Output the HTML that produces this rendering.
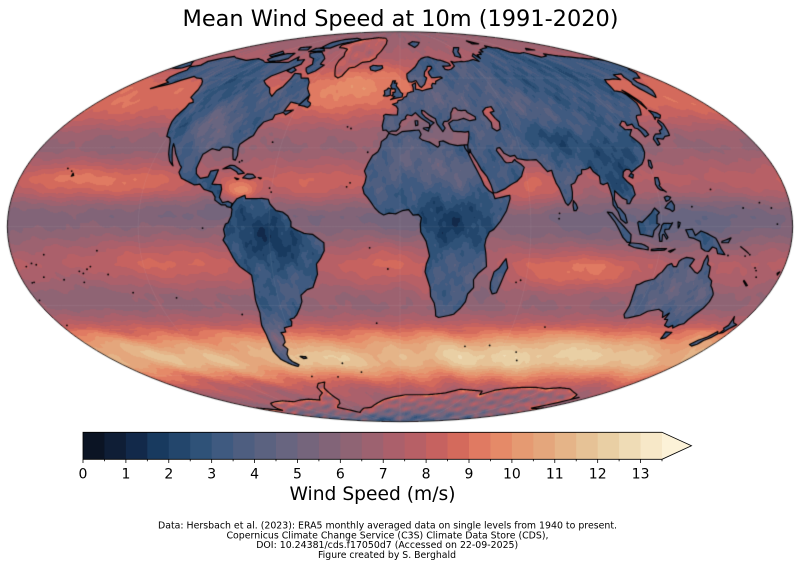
<!DOCTYPE html>
<html><head><meta charset="utf-8">
<style>
html,body{margin:0;padding:0;background:#fff;}
#wrap{position:relative;width:800px;height:568px;overflow:hidden;background:#fff;}
canvas{position:absolute;left:0;top:0;}
svg{position:absolute;left:0;top:0;}
text{font-family:"DejaVu Sans","Liberation Sans",sans-serif;fill:#000;}
</style></head><body>
<div id="wrap">
<canvas id="c" width="800" height="568"></canvas>
<svg id="s" width="800" height="568" viewBox="0 0 800 568" xmlns="http://www.w3.org/2000/svg">
<text x="400.5" y="26" font-size="22.4" text-anchor="middle" textLength="436" lengthAdjust="spacingAndGlyphs">Mean Wind Speed at 10m (1991-2020)</text>
<g id="cb"></g>
<path d="M83,432.3 H662 L691.5,445.8 L662,459.3 H83 Z" fill="none" stroke="#000" stroke-width="0.8"/>
<g font-size="14" text-anchor="middle">
<text x="83" y="478.3">0</text>
<text x="125.9" y="478.3">1</text>
<text x="168.8" y="478.3">2</text>
<text x="211.7" y="478.3">3</text>
<text x="254.6" y="478.3">4</text>
<text x="297.4" y="478.3">5</text>
<text x="340.3" y="478.3">6</text>
<text x="383.2" y="478.3">7</text>
<text x="426.1" y="478.3">8</text>
<text x="469" y="478.3">9</text>
<text x="511.9" y="478.3">10</text>
<text x="554.8" y="478.3">11</text>
<text x="597.7" y="478.3">12</text>
<text x="640.6" y="478.3">13</text>
</g>
<text x="372.5" y="500" font-size="18.6" text-anchor="middle" textLength="166" lengthAdjust="spacingAndGlyphs">Wind Speed (m/s)</text>
<g font-size="9.5" text-anchor="middle">
<text x="387.5" y="528.5" textLength="459" lengthAdjust="spacingAndGlyphs">Data: Hersbach et al. (2023): ERA5 monthly averaged data on single levels from 1940 to present.</text>
<text x="387.5" y="538.4" textLength="322" lengthAdjust="spacingAndGlyphs">Copernicus Climate Change Service (C3S) Climate Data Store (CDS),</text>
<text x="387.2" y="548.2" textLength="262" lengthAdjust="spacingAndGlyphs">DOI: 10.24381/cds.f17050d7 (Accessed on 22-09-2025)</text>
<text x="387" y="558" textLength="138" lengthAdjust="spacingAndGlyphs">Figure created by S. Berghald</text>
</g>
</svg>
</div>
<script>
(function(){
var CM=['#0b1424','#0f1e36','#12294a','#183a5f','#23466c','#2f5278','#3f5a80','#4e5e80','#5b6280','#686580','#75657c','#826478','#8f6474','#9d6270','#ab606b','#b76066','#c66260','#d46a5c','#e07a62','#e58a68','#e59a72','#e4a67c','#e5b488','#e6c296','#e9cfa4','#efdcb6','#f7e8c8','#fcf2d8'];
var NS='http://www.w3.org/2000/svg';
var cb=document.getElementById('cb');
var step=579/27;
for(var i=0;i<27;i++){
  var r=document.createElementNS(NS,'rect');
  r.setAttribute('x',(83+i*step).toFixed(2));r.setAttribute('y','432.3');
  r.setAttribute('width',(step+0.4).toFixed(2));r.setAttribute('height','27');
  r.setAttribute('fill',CM[i]);cb.appendChild(r);
}
var ext=document.createElementNS(NS,'polygon');
ext.setAttribute('points','662,432.3 691.5,445.8 662,459.3');ext.setAttribute('fill',CM[27]);cb.appendChild(ext);
for(var i=0;i<=27;i++){
  var x=83+i*step;
  var l=document.createElementNS(NS,'line');
  l.setAttribute('x1',x.toFixed(2));l.setAttribute('x2',x.toFixed(2));
  l.setAttribute('y1','459.3');l.setAttribute('y2',(i%2==0?463:461.3));
  l.setAttribute('stroke','#000');l.setAttribute('stroke-width','0.8');cb.appendChild(l);
}
var hex=CM.map(function(h){return [parseInt(h.substr(1,2),16),parseInt(h.substr(3,2),16),parseInt(h.substr(5,2),16)];});

var CX=400,CY=226.7,RX=392.7,RY=195,D=Math.PI/180;
function theta(lat){
  if(lat>=89.999)return Math.PI/2; if(lat<=-89.999)return -Math.PI/2;
  var k=Math.PI*Math.sin(lat*D),lo=-Math.PI/2,hi=Math.PI/2;
  for(var i=0;i<40;i++){var m=(lo+hi)/2; if(2*m+Math.sin(2*m)<k)lo=m; else hi=m;}
  return (lo+hi)/2;
}
function proj(lon,lat){var t=theta(lat);return [CX+RX*(lon/180)*Math.cos(t),CY-RY*Math.sin(t)];}
function dens(p,closed){
  var o=[];var n=p.length;var lim=closed?n:n-1;
  for(var i=0;i<lim;i++){var a=p[i],b=p[(i+1)%n];
    var k=Math.max(1,Math.ceil(Math.max(Math.abs(b[0]-a[0]),Math.abs(b[1]-a[1]))/1.5));
    for(var j=0;j<k;j++){o.push([a[0]+(b[0]-a[0])*j/k,a[1]+(b[1]-a[1])*j/k]);}
  }
  if(!closed)o.push(p[n-1]);
  return o;
}
var NA=[[-166,68.5],[-162,70.2],[-156,71.3],[-150,70.4],[-141,69.6],[-135,69],[-128,70],[-120,69],[-115,68],[-108,68],[-100,68],[-95,68],[-94,71],[-90,69],[-85,69.5],[-82,67],[-87,64],[-93,61],[-94,58.7],[-90,57],[-85,55.3],[-82,53],[-79,51.5],[-79,54],[-77,56],[-77,60],[-78,62.3],[-73,62],[-70,60],[-65,60],[-62,58],[-60,55],[-56,52],[-59,48],[-65,49],[-66,45],[-61,45.5],[-64,43.5],[-66,44.5],[-70,43.5],[-70,41.7],[-74,40.5],[-75.5,38],[-76,35],[-78,33.8],[-81,31.5],[-81,30],[-80,27],[-80.3,25.2],[-81.5,25.5],[-82.5,27.5],[-83.5,29.7],[-86,30.3],[-89,30.3],[-90,29],[-94,29.7],[-97.3,27.5],[-97.5,25],[-97.8,22],[-97,20],[-94.5,18.2],[-91,18.8],[-90.5,21],[-87,21.5],[-87.5,18.3],[-88.3,16],[-84,15.8],[-83.3,14],[-83.7,11],[-82,9],[-79.5,9.5],[-77.5,8.7],[-77.9,7.2],[-79.8,7.5],[-80.5,8.2],[-82.5,8.2],[-85.7,10],[-85.8,11.2],[-87.5,13],[-91.5,14],[-94,16],[-96.5,15.7],[-100,17],[-103.5,18.3],[-105.5,20.5],[-105.2,22.5],[-106.5,23.5],[-109,26],[-111,27.9],[-112.8,30],[-114.7,31.7],[-114,30],[-112.5,27.5],[-110.5,24.2],[-109.5,23],[-110.3,23.5],[-112.1,24.8],[-114.2,27.5],[-115.8,30.3],[-117.1,32.5],[-118.5,34],[-120.6,34.6],[-122.4,37.5],[-124,40.5],[-124.5,43],[-124,46.5],[-124.7,48.4],[-123,48.8],[-125,50],[-128,51],[-130,54.5],[-133,57],[-136,58.5],[-140,59.8],[-144,60],[-148,60.8],[-152,59],[-154,57.5],[-157,56.5],[-162,55],[-158,58],[-162,58.8],[-164.5,60.5],[-165,62.5],[-164,64],[-168,65.6],[-163,66.5]];
var SA=[[-77.9,7.2],[-77,8.7],[-75.5,10.5],[-72,11.8],[-71.5,10.5],[-68,10.5],[-64,10.6],[-61,10.3],[-60,8.5],[-57,6],[-54,5.5],[-51.5,4],[-50,1.8],[-50,0],[-48,-1],[-44,-2.5],[-40,-2.9],[-37,-4.8],[-35,-6],[-35,-9],[-37,-12],[-39,-14],[-39,-17.9],[-40.5,-20.5],[-42,-23],[-45,-23.8],[-48.5,-26],[-48.7,-28.5],[-50.5,-31],[-53,-33.7],[-55,-35],[-57.3,-35.5],[-56.8,-36.5],[-57.7,-38.2],[-62,-39],[-62.2,-40.7],[-65,-41],[-64.5,-42.5],[-65.3,-45],[-67.5,-46.3],[-66,-48],[-68.5,-50.3],[-69,-52.2],[-68.3,-53.5],[-65.5,-55],[-67,-55.8],[-70,-55],[-72,-54],[-74.5,-52.5],[-75.5,-49],[-74.5,-46],[-73.6,-42],[-73.5,-38],[-71.6,-33],[-71.5,-28],[-70.5,-23],[-70.2,-18.3],[-72,-17],[-75,-15],[-76.3,-13.5],[-77.5,-11.5],[-79.5,-7.5],[-81.3,-5],[-80.3,-3.5],[-80.9,-1],[-80,1],[-78.8,1.5],[-77.5,4],[-77.3,6.5]];
var GL=[[-73,78],[-66,80.5],[-60,82],[-40,83.5],[-25,83],[-20,81.5],[-18,79],[-19,76],[-20,74],[-22,72],[-22,70.5],[-26,68.5],[-32,68],[-36,65.5],[-40,65],[-42,61],[-44,60],[-47,61],[-50,64],[-52,66],[-53.5,69],[-53,71.5],[-56,73.5],[-58,75.5],[-64,76.2],[-70,76.5]];
var AF=[[-5.9,35.8],[-2,35.1],[1,36.5],[5,36.8],[10,37.2],[11,35.5],[10,34],[11.5,33.1],[15,32.3],[19,30.3],[20,31],[20,32.5],[22,32.8],[25,31.6],[29,30.9],[32.3,31.2],[34.2,31.2],[33.8,27.8],[35.5,24],[37,21],[38.5,18],[39.5,15.5],[41.5,13.5],[43.3,12.5],[44,10.5],[51,11.8],[51,10.5],[49,6],[46,2],[43,-1],[41,-2],[39.5,-4.5],[39,-7],[39.7,-10],[40.5,-15],[37,-17.5],[35,-20],[35.5,-23],[33,-25.5],[32.5,-28.5],[30.5,-31],[27.5,-33.5],[25,-34],[20,-34.8],[18.4,-34.2],[18,-32],[17,-29],[15,-26.5],[14.5,-23],[11.8,-17],[12.3,-14],[13.7,-11],[12,-5.5],[9.5,-2],[9.3,1],[9.8,3.3],[8.5,4.5],[6,4.3],[4,6.4],[1,6],[-2,4.8],[-5,5.1],[-7.5,4.4],[-9.5,5.3],[-11.5,6.9],[-13.3,9],[-15,10.9],[-16.7,12.4],[-17.5,14.7],[-16.5,16.5],[-16,19],[-17,21],[-15.5,24],[-13.5,27],[-11,28.5],[-9.8,30.5],[-9.5,32.5],[-7,34]];
var MG=[[49.3,-12],[50.5,-15.5],[49.5,-17.5],[48,-22],[47,-25],[45,-25.5],[43.6,-23.5],[43.3,-21],[44.3,-17],[46.5,-15.5],[48,-13.5]];
var EU=[[-9,37],[-9.5,39],[-8.8,42],[-9.2,43.2],[-8,43.7],[-4,43.4],[-1.5,43.4],[-1.2,46],[-2.2,47.2],[-4.5,48],[-1.5,48.7],[-1.2,49.6],[1.5,50.1],[2.5,51.1],[4,51.5],[4.8,53],[7,53.5],[8.5,53.7],[8.6,55.5],[8.1,56.8],[10.5,57.7],[10.3,56.2],[10,54.8],[12.5,54.5],[14,54],[18,54.8],[21,55.2],[21,56.5],[22,57.5],[24,57.2],[24.5,58.4],[28,59.5],[30,60],[29,60.6],[25,60.2],[22.5,60.2],[21.5,61.5],[21.3,63],[25,65],[25,65.8],[22,65.8],[21,64.5],[18.5,63],[17.5,61],[18.9,60],[16.5,57],[14,55.5],[12.8,56.2],[11,58.8],[8,58],[6,58.2],[5,60],[5,62],[8,63.5],[12,65.5],[14,67],[16,68.6],[19,70],[23,70.8],[26,71],[30,70],[33,69.3],[36,69],[41,67.5],[41,66.2],[38,66],[34.5,66],[35,64.3],[37,64],[40,64.5],[44,66],[44,68.5],[46,68],[53,68.5],[55,68.3],[60,68.8],[65,69.5],[68.5,68.5],[68.5,71.5],[72.5,72.8],[72.7,70],[75,72.2],[80,72.5],[81,73.7],[86,73.9],[87,75.1],[94,76],[100,76.4],[104,77.7],[107,76.5],[112,76.2],[113,73.7],[120,73],[126,73.5],[129,72],[131,70.8],[139,71.5],[142,72.7],[150,71.5],[160,70.7],[170,69.9],[176,69.7],[180,68.9],[180,65],[178,64.5],[176,62.5],[172,61],[170,60],[166,60],[163.5,59.5],[162,58],[163,56],[161.5,54],[160,53],[158.5,52],[156.7,51],[156,53],[155.5,55],[156,57],[158,58],[160,60.5],[163,62],[160,61.8],[156,61.6],[154,59.2],[150,59.6],[146,59.2],[143,59.3],[140.5,57.8],[137,54],[140.5,53.5],[141,52.5],[140.2,48.5],[138,46],[135,43.5],[132,43.2],[130.7,42.3],[129.5,40.8],[128,39],[129.4,37],[129.3,35.3],[126.6,34.4],[126.4,36.8],[126,37.7],[124.7,38],[125,39.6],[121.7,39],[122.3,40.5],[121,40.9],[118,39.2],[119,37.3],[122.5,37.4],[120.6,36.1],[119.2,34.9],[121.5,32],[121.9,31],[121.3,28.3],[119.6,26],[117,23.6],[114,22.3],[110.5,20.5],[110,21.5],[108.5,21.7],[106.7,20.7],[105.7,18.8],[107,17],[109,15.3],[109.3,12],[107.5,10.5],[106,8.6],[104.8,8.6],[105,10],[103,10.8],[100.1,13.5],[99.2,10.2],[100.3,7.3],[101.3,6.8],[103.4,4.5],[104.2,1.5],[103.5,1.3],[101.3,2.8],[100.3,5.5],[98.3,8.2],[98.5,11],[97.7,16.5],[95.4,15.8],[94.2,16.3],[94.6,19],[92.4,20.7],[91.5,22.6],[90.3,22],[88.8,21.6],[87,21.5],[86.5,20],[84.5,19.2],[82.2,16.5],[80.3,15.8],[80.3,13],[79.8,10.3],[78.5,8.8],[77.5,8],[76.5,8.9],[75.5,11.5],[74.5,14.5],[73.4,16.5],[72.8,19],[72.6,21.3],[70.5,20.8],[69,22.5],[68.2,23.7],[66.5,25.4],[62,25.2],[57.3,25.8],[56.5,27.1],[54,26.7],[51.5,27.9],[50,30.1],[48.6,29.9],[48,29],[50,26.2],[50.8,24.8],[51.6,24.2],[52.5,24.2],[54.5,24.4],[56,25.5],[56.4,24.9],[58.7,23.5],[59.8,22.4],[58.5,20.5],[57.7,19],[55,17],[52,15.8],[49,14.2],[45,12.8],[43.5,12.7],[42.7,15.7],[41.2,19],[39,21.5],[37.5,24.3],[35.2,28],[34.9,29.5],[34.5,28],[33.5,28.5],[32.5,30],[32.3,31.2],[34.2,31.2],[35,33],[35.9,35.5],[36,36.6],[34,36.3],[32,36.5],[30.5,36.5],[28,36.7],[27,38],[26.3,40],[29,41.2],[31.5,41.2],[35,42],[38,41],[41.5,41.5],[41.7,42.7],[38,44.5],[37.5,45.4],[35,45.3],[33,45.5],[32,46.5],[30.5,46.3],[29.7,45.3],[28.7,44.3],[28,42],[26,40.8],[24,40.7],[23,39.5],[24,38],[22.5,36.5],[21.5,37.8],[20,39.7],[19.5,41.8],[16,43.5],[13.7,45.1],[12.3,45.4],[12.4,44],[14,42.5],[16,41.3],[18.5,40.2],[16.5,39],[15.7,38],[16,39.5],[15.6,40.1],[12,41.9],[10.5,43],[8.7,44.4],[6.5,43.1],[4,43.5],[3,42.5],[3.2,41.9],[0.8,41],[-0.3,39.5],[0,38.6],[-0.7,37.6],[-2.1,36.7],[-4.5,36.7],[-6,36.2],[-7.4,37.2]];
var small=[
[[130,31],[131.5,31.5],[132,33.8],[135,33.5],[137,34.6],[139.8,35],[140.9,36.9],[141.5,38.5],[142,39.8],[141.4,41.4],[140,40.5],[139.8,38.5],[138.5,37.5],[136.7,37],[136,35.7],[133,35.5],[131,34.4],[130,33.5]],
[[140,41.5],[141.5,42.5],[143.3,42],[145.5,43.3],[145,44.2],[142,45.4],[141.5,43.5]],
[[142,46],[143.5,49],[143,52.5],[142.5,54.3],[142,51]],
[[-5.7,50],[-3,50.6],[1.3,51.2],[1.7,52.7],[0.3,53.4],[-0.2,54.2],[-1.5,55.5],[-2.5,56.3],[-2,57.6],[-4,57.6],[-3,58.6],[-5,58.6],[-5.6,57],[-6.2,56.3],[-5.5,55.3],[-4.8,54.8],[-3.2,54.9],[-3,53.8],[-3.2,53.3],[-4.6,53.3],[-4.2,52.4],[-5.2,51.8],[-3.2,51.4]],
[[-6,52],[-6.2,53.8],[-5.8,54.8],[-7.5,55.3],[-8.5,54.5],[-10,54],[-9.5,52.5],[-10.3,51.7],[-8,51.6]],
[[-22.5,64],[-24,65.5],[-22,66.4],[-18,66.1],[-14.5,66.2],[-13.6,65],[-15,64.3],[-18.7,63.4]],
[[79.8,8],[80.2,9.8],[81.3,8.5],[81.8,7],[81,6],[80,6]],
[[120.1,23],[121,25.2],[122,25],[121.5,22.5],[120.7,21.9]],
[[108.6,19],[110,20.1],[111,19.6],[110.2,18.3]],
[[95.3,5.5],[97.5,5.2],[100.3,2.2],[103.8,-1],[106,-3],[106,-5.8],[104.5,-5.9],[102.3,-4],[100.4,-1],[98.6,1.7]],
[[105.2,-6.8],[106,-6],[108.3,-6.2],[111,-6.4],[112.6,-6.9],[114.4,-7.7],[114.6,-8.7],[111,-8.2],[108,-7.8]],
[[109,1.5],[109.6,2],[111,1.6],[113,3.2],[115.5,5.2],[117.2,7],[119.2,5.3],[118,4.3],[117.8,1.2],[119,0.9],[117.5,-0.5],[116.5,-1.5],[116,-3.8],[114.5,-3.5],[111.7,-3],[110.2,-2.9],[109.5,-0.8]],
[[119.4,-5.5],[120.4,-5.5],[120.4,-3],[121,-2.8],[122.5,-4.7],[123,-4],[121.3,-1.9],[121.5,-1],[123.3,-0.9],[125,1.5],[124.3,1.2],[120.9,1.3],[120,0.5],[119.8,-0.5],[118.8,-2.8]],
[[120.6,18.5],[122.2,18.5],[122.1,16],[121.5,15.5],[122.5,14.2],[124,13],[123.2,13.5],[121.5,13.8],[120.6,14.5],[120,16]],
[[122,7],[123.5,8.5],[125.5,9.7],[126.5,8],[126.2,6.3],[125.3,5.7],[124,6.5]],
[[122.5,11],[124,11.5],[125.5,11],[124.5,10],[123,9.5]],
[[127.5,1.8],[128.5,1.5],[128,0],[127.5,-0.5]],
[[131,-1.2],[134,-0.9],[135.5,-3.3],[138,-1.6],[141,-2.6],[145,-4.3],[146,-5.5],[148,-8.1],[150.5,-10.5],[147,-10.1],[146,-8.2],[144,-7.6],[142.6,-9.3],[141,-9.1],[139,-8.1],[138,-5.5],[135,-4.4],[132.7,-4],[132,-2.8]],
[[148,-5.5],[152,-4.2],[151,-6],[148,-6]],
[[124,-9.2],[127,-8.4],[125,-9.6]],
[[116,-8.5],[119,-8.2],[123,-8.2],[122,-8.8],[116,-9]],
[[157,-7.5],[160,-9.2],[161.3,-10],[159,-8.6]],
[[164,-20.2],[167,-22.2],[166.5,-22.4],[164,-20.6]],
[[113.5,-22],[114,-26],[115,-30],[115,-33.6],[116.5,-35],[118,-35],[123.5,-33.9],[126,-32.3],[131,-31.5],[134,-32.6],[135.9,-34.8],[137.7,-33],[137.8,-35.6],[139.5,-35.6],[140.6,-38],[143.5,-38.8],[145,-38],[146.3,-39.1],[148,-37.8],[150,-37.3],[150.2,-35.7],[151.3,-33.5],[153,-31],[153.6,-28.5],[153.2,-25.9],[152.8,-25.3],[151,-23.5],[149.5,-22.3],[148.7,-20.4],[146.3,-18.9],[145.3,-15],[143.6,-14.1],[143.5,-12.5],[142.5,-10.7],[141.6,-13],[141.5,-16.2],[140.5,-17.6],[139,-17.1],[136,-15],[135.5,-14.8],[136.9,-12.3],[136,-11.9],[133,-11.5],[131,-12.2],[130,-13],[129.5,-15],[128,-15],[126.8,-13.8],[125,-14.5],[123.5,-17],[122.2,-18],[121,-19.7],[117,-20.6],[114.6,-21.8]],
[[144.7,-40.7],[148.3,-40.9],[148,-43.2],[146,-43.6]],
[[172.7,-34.4],[174.6,-36.2],[175.9,-37],[178.5,-37.7],[177,-39.3],[176.2,-41],[174.7,-41.3],[175,-39.8],[173.8,-39.2],[174.6,-38]],
[[172.7,-40.5],[174.3,-41.4],[173.3,-43],[171.3,-44.3],[170.7,-45.9],[169,-46.7],[166.5,-46],[168.2,-44.1],[170.6,-43],[172,-41.5]],
[[-80,73.7],[-72,71.5],[-68,70],[-66,67],[-62,66.5],[-64.5,63.5],[-68,62],[-71.5,63.5],[-74,65],[-72.5,67],[-78,70],[-84,71],[-90,73],[-85,73.8]],
[[-118,71],[-112,72.8],[-105,73],[-101,70],[-105,68.8],[-113,68.5],[-118,69.5]],
[[-90,76],[-80,76.2],[-77,79],[-68,80.6],[-62,82],[-75,83],[-90,82],[-95,80]],
[[-95,74],[-80,74.5],[-88,76.5],[-95,76]],
[[-125,71.8],[-120,71],[-116,73],[-123,74.3]],
[[-110,75],[-100,75],[-105,77],[-115,76.5]],
[[-86,63.5],[-81,62.5],[-80,64],[-85,65.5]],
[[11,79],[17,76.6],[22,78],[27,80],[18,80.5]],
[[52,71.5],[56,70.6],[58,72],[60,74],[68,76.5],[62,76.5],[55,74]],
[[95,79],[104,79],[100,81]],
[[137,75],[146,75],[142,76]],
[[-85,21.8],[-82,23.2],[-80,23.1],[-77,21.8],[-74.2,20.2],[-77,19.8],[-78,20.7],[-81.5,22.2],[-84,21.9]],
[[-74.5,18.4],[-72.8,19.9],[-70,19.7],[-68.4,18.6],[-71,18]],
[[-78.3,18.4],[-76.2,18],[-77,17.7]],
[[-67.2,18.5],[-65.6,18.3],[-66,18]],
[[-59.4,47.6],[-56,51.6],[-55.5,49.5],[-53,48.5],[-52.7,47.5],[-53.6,46.6],[-55.9,47.2]],
[[12.4,38],[15.6,38.3],[15,36.7],[12.4,37.7]],
[[8.4,39],[9.6,39.2],[9.7,41],[8.2,41]],
[[-61.3,-51.2],[-58,-51.3],[-57.8,-52],[-60,-52.2]],
[[-180,68.9],[-175,67.5],[-171,66.5],[-172,65],[-175,64.8],[-180,65]],
[[-156,19],[-155,19.3],[-155.8,20.2]],
[[178,-17.5],[179,-17],[178.5,-18.2]]
];
var ANTc=[[-180,-78],[-170,-78.5],[-160,-79.5],[-150,-77],[-140,-75],[-130,-74],[-120,-73.5],[-110,-74],[-100,-73],[-90,-72.5],[-80,-73],[-75,-71],[-68,-69],[-67,-66],[-63,-64],[-57,-63.3],[-59,-64.5],[-62,-66.5],[-62,-70],[-61,-73],[-65,-75],[-70,-76],[-76,-77.5],[-60,-81],[-45,-78],[-35,-77.5],[-25,-75],[-15,-72.5],[-5,-71],[5,-70],[15,-70],[25,-70],[33,-69.5],[40,-69],[50,-67],[60,-67.5],[70,-68],[72,-70],[80,-67.5],[88,-66.5],[100,-66],[110,-66],[120,-66.8],[130,-66.2],[140,-66.8],[150,-68.5],[160,-70],[168,-72.5],[170,-71.5],[166,-76],[164,-78],[170,-78.5],[180,-78]];
var ANTf=ANTc.concat([[180,-84],[180,-90],[0,-90],[-180,-90],[-180,-84]]);
var CASP=[[47,45],[49.5,46.5],[53,47],[53.5,45],[51,44.5],[52.5,42],[54,40.5],[53,37.5],[51,36.8],[49,38],[49.5,40.3],[48,42.5],[47,43.5]];
var dots=[[-149.5,-17.6],[-172,-13.8],[-157,21],[-159.5,22],[-140,-9],[-160,-20],[-175,-21],[-130,-25],[-170,-14.3],[-110,-27],[-25,15],[-23.5,16.5],[-16,28.3],[-28,38.5],[-26,37.8],[-37,-54.3],[69.5,-49.3],[57.5,-20.2],[55.5,-21],[73,3],[73.3,5],[-90.5,-0.5],[-81,-33.6],[-60,13],[-61,14.5],[-77,25],[-78,24.5],[-64.8,32.3],[-5.7,-15.9],[-14,-7.9],[-12.3,-37.1],[37.7,-46.8],[51.8,-46.4],[77.5,-38.7],[145,14],[134.5,7.5],[158,7],[166,9],[171,7],[173,1],[-169,-19],[-177,-38],[-178.5,-28],[166.5,-15.5],[167.5,-16.5],[169,-19],[160,-11],[162,-10.5],[152,-10.8],[-175,-15],[-176,-21.2],[-63,-60.5],[-44.5,-60.7],[-26.5,-58.4],[73.5,-53],[-138,-18],[-145,-15],[-147,-16],[-151,-16.8],[-165,-10.5],[-151,-21]];

function interp(t,x){for(var i=0;i<t.length-1;i++){if(x<=t[i][0]&&x>=t[i+1][0]){var f=(x-t[i+1][0])/(t[i][0]-t[i+1][0]);return t[i+1][1]+f*(t[i][1]-t[i+1][1]);}}return t[t.length-1][1];}
var OB=[[90,6.4],[80,6.7],[70,7.3],[62,8.3],[55,8.8],[48,8.6],[42,7.8],[36,6.7],[30,6.4],[24,7.1],[18,7.8],[13,7.4],[8,6.3],[4,5.8],[0,6.0],[-4,6.4],[-8,7.0],[-14,7.7],[-20,7.3],[-26,6.5],[-31,6.4],[-36,7.4],[-41,9.0],[-46,10.4],[-51,11.1],[-55,10.9],[-59,9.7],[-63,8.6],[-67,7.6],[-72,7.0],[-80,6.5],[-90,6.5]];
var OBU=[[58,-30,6,18,1.1],[62,-5,5,10,0.4],[17,-145,5,25,1.2],[15,-120,4,12,0.6],[16,-40,5,15,0.8],[13.5,-75,3,6,2.3],[8,-105,5,25,-0.4],[8,-85,4,6,-0.8],[30,-140,4,20,-0.3],[2,140,8,25,-1.0],[0,80,6,20,-0.6],[13,60,5,10,1.2],[15,88,5,6,-0.4],[-13,-110,6,25,1.0],[-14,-8,6,12,1.0],[-17,85,5,22,1.6],[-50,80,6,45,1.3],[-52,-120,5,30,0.3],[-25,12,4,4,0.8],[-20,-150,6,20,-0.5],[20,-158,3,8,0.6],[2,-30,4,15,-0.4],[2,5,5,10,-0.9],[-5,125,8,15,-0.5],[40,15,5,12,-1.5],[44,35,3,6,-1.5],[-20,40,5,5,-1.3],[25,-90,4,6,-0.5],[60,-85,5,10,-0.5],[-52,-40,5,20,0.6],[-56,-65,3,8,0.5],[45,-170,6,25,0.4],[48,-40,5,15,0.4]];
var LBU=[[-5,-62,10,15,-1.6],[0,20,8,12,-1.7],[22,10,8,20,0.4],[25,0,5,8,0.6],[20,25,5,8,0.5],[48,65,5,12,0.6],[-27,125,6,8,0.4],[62,110,10,30,-0.6],[27,108,6,8,-1.1],[40,-100,8,8,1.2],[-25,133,10,15,0.7],[52,30,6,15,0.7],[-45,-68,5,4,1.5],[30,90,4,14,-0.6],[35,80,3,10,-0.8],[58,-110,8,15,-0.3],[10,-5,6,10,-0.4],[-20,25,8,8,0.3],[45,-115,9,6,-0.8],[8,38,5,4,-1.0],[48,5,4,8,0.5],[65,60,4,15,0.4],[0,110,4,8,-0.8],[15,-90,4,6,-0.6],[18,102,5,6,-0.7]];
function g(lat,lon,b){var dl=lon-b[1];if(dl>180)dl-=360;if(dl<-180)dl+=360;var u=(lat-b[0])/b[2],v=dl/b[3];return b[4]*Math.exp(-0.5*(u*u+v*v));}
function noise(lat,lon){return 0.5*Math.sin(lat*0.35+lon*0.21)+0.3*Math.sin(lon*0.53-lat*0.47+1.3)+0.2*Math.sin(lat*1.1+lon*0.9);}
function ln(lat,lon){return 0.35*Math.sin(0.21*lat+0.13*lon+0.5)+0.3*Math.sin(0.37*lon-0.29*lat+2.1)+0.25*Math.sin(0.61*lat+0.47*lon+4.2)+0.2*Math.sin(0.83*lon+0.11*lat+1.7)+0.15*Math.sin(1.3*lat-0.9*lon)+0.12*Math.sin(1.9*lon+0.7*lat+0.3);}
function pxn(x,y){return 0.4*Math.sin(x*0.31+y*0.53)+0.35*Math.sin(x*0.17-y*0.41+1.1)+0.25*Math.sin(x*0.73+y*0.29+2.3);}
function oceanV(lat,lon){var v=interp(OB,lat);for(var i=0;i<OBU.length;i++)v+=g(lat,lon,OBU[i]);v+=0.25*noise(lat,lon);if(lat<-40)v+=0.5*Math.sin(lon*0.12+lat*0.3)*Math.sin(lon*0.05);return v;}
function landV(lat,lon){
  var v=3.5;for(var i=0;i<LBU.length;i++)v+=g(lat,lon,LBU[i]);
  v+=0.75*ln(lat,lon);return v;
}
function projRing(p){var d=dens(p,true),o=[];var minx=1e9,maxx=-1e9,miny=1e9,maxy=-1e9;for(var i=0;i<d.length;i++){var q=proj(d[i][0],d[i][1]);o.push(q);if(q[0]<minx)minx=q[0];if(q[0]>maxx)maxx=q[0];if(q[1]<miny)miny=q[1];if(q[1]>maxy)maxy=q[1];}return {p:o,x0:minx,x1:maxx,y0:miny,y1:maxy};}
function inside(R,x,y){if(x<R.x0||x>R.x1||y<R.y0||y>R.y1)return false;var p=R.p,c=false;for(var i=0,j=p.length-1;i<p.length;j=i++){var yi=p[i][1],yj=p[j][1];if((yi>y)!=(yj>y)){var xi=p[i][0]+(y-yi)/(yj-yi)*(p[j][0]-p[i][0]);if(x<xi)c=!c;}}return c;}
var GLR=projRing(GL),ANR=projRing(ANTf);
function edgeDist(R,x,y){var m=1e9,p=R.p;for(var i=0;i<p.length;i++){var dx=p[i][0]-x,dy=p[i][1]-y,d2=dx*dx+dy*dy;if(d2<m)m=d2;}return Math.sqrt(m);}

var mk=document.createElement('canvas');mk.width=800;mk.height=568;var mx=mk.getContext('2d');
function ring(c,p,closed){var d=dens(p,closed);for(var i=0;i<d.length;i++){var q=proj(d[i][0],d[i][1]);if(i==0)c.moveTo(q[0],q[1]);else c.lineTo(q[0],q[1]);}if(closed)c.closePath();}
var polys=[NA,SA,GL,AF,MG,EU].concat(small);
mx.fillStyle='#000';mx.beginPath();
for(var i=0;i<polys.length;i++)ring(mx,polys[i],true);
ring(mx,ANTf,true);
mx.fill('nonzero');
mx.globalCompositeOperation='destination-out';mx.beginPath();ring(mx,CASP,true);mx.fill();
mx.globalCompositeOperation='source-over';
var md=mx.getImageData(0,0,800,568).data;

var cv=document.getElementById('c'),ctx=cv.getContext('2d');
var img=ctx.createImageData(800,568),dd=img.data;
for(var py=28;py<426;py++){
  for(var px=4;px<797;px++){
    var X=(px+0.5-CX)/RX,Y=(CY-(py+0.5))/RY;
    if(X*X+Y*Y>1)continue;
    var tt=Math.asin(Math.max(-1,Math.min(1,Y)));
    var ss=(2*tt+Math.sin(2*tt))/Math.PI;
    var lat=Math.asin(Math.max(-1,Math.min(1,ss)))/D;
    var ct=Math.cos(tt);var lon=ct>1e-6?180*X/ct:0;
    var idx=(py*800+px)*4;
    var fx=px+0.5,fy=py+0.5;
    var v;
    if(inside(GLR,fx,fy)){
      var ed=edgeDist(GLR,fx,fy);
      v=7.4+1.6*Math.exp(-ed/3)+0.7*pxn(fx,fy);
    } else if(inside(ANR,fx,fy)){
      var ed2=edgeDist(ANR,fx,fy);
      v=6.2+3.5*Math.exp(-ed2/3.5)-0.25*Math.max(0,fy-408)+1.3*pxn(fx*0.8,fy*1.6);
    } else if(md[idx+3]>127){v=landV(lat,lon);}
    else v=oceanV(lat,lon);
    var k=Math.floor(v/0.5);if(!(k>=0))k=0;if(k>27)k=27;
    var cc=hex[k];dd[idx]=cc[0];dd[idx+1]=cc[1];dd[idx+2]=cc[2];dd[idx+3]=255;
  }
}
ctx.putImageData(img,0,0);
// self-check: if Greenland interior came out bluish, paint it salmon
var gp=proj(-40,72);var gi=(Math.round(gp[1])*800+Math.round(gp[0]))*4;
if(dd[gi+2]>dd[gi]){ctx.fillStyle='#c06462';ctx.beginPath();ring(ctx,GL,true);ctx.fill();}
ctx.save();ctx.beginPath();ctx.ellipse(CX,CY,RX,RY,0,0,Math.PI*2);ctx.clip();
ctx.strokeStyle='rgba(235,235,235,0.13)';ctx.lineWidth=0.6;ctx.beginPath();
[-120,-60,0,60,120].forEach(function(lo){ring(ctx,[[lo,-90],[lo,90]],false);});
[-60,-30,0,30,60].forEach(function(la){ring(ctx,[[-180,la],[180,la]],false);});
ctx.stroke();
ctx.strokeStyle='#000';ctx.lineWidth=1.2;ctx.lineJoin='round';ctx.beginPath();
for(var i=0;i<polys.length;i++)ring(ctx,polys[i],true);
ring(ctx,ANTc,false);ring(ctx,CASP,true);
ctx.stroke();
ctx.fillStyle='#000';
for(var i=0;i<dots.length;i++){var q=proj(dots[i][0],dots[i][1]);ctx.beginPath();ctx.arc(q[0],q[1],0.9,0,Math.PI*2);ctx.fill();}
ctx.restore();
ctx.strokeStyle='#000';ctx.lineWidth=0.8;ctx.beginPath();ctx.ellipse(CX,CY,RX,RY,0,0,Math.PI*2);ctx.stroke();
})();
</script>
</body></html>
